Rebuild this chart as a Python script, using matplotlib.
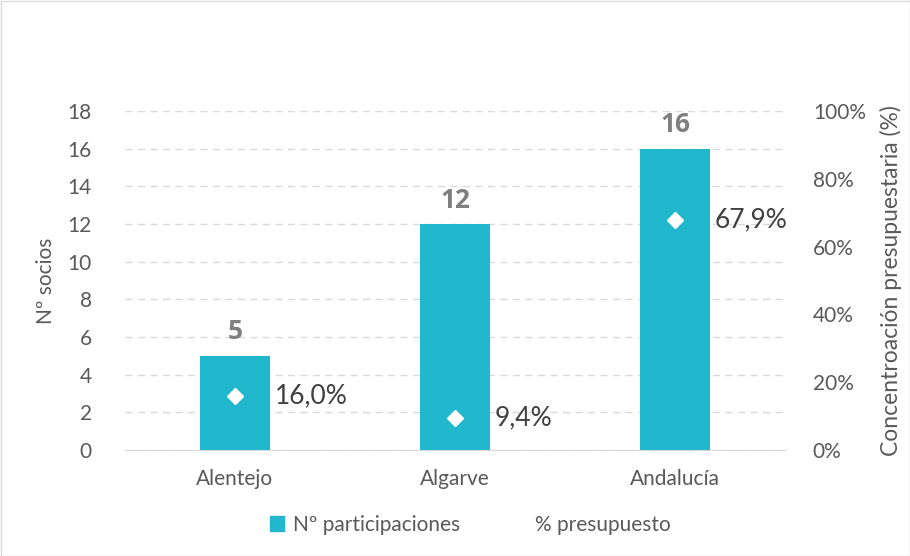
import matplotlib.pyplot as plt
from matplotlib.patches import Rectangle
from matplotlib.lines import Line2D

plt.rcParams['font.family'] = ['Lato', 'DejaVu Sans']

regions = ['Alentejo', 'Algarve', 'Andalucía']
socios = [5, 12, 16]
presupuesto = [16.0, 9.4, 67.9]
pct_labels = ['16,0%', '9,4%', '67,9%']

bar_color = '#21B7CD'
text_gray = '#595959'
grid_gray = '#D9D9D9'

fig = plt.figure(figsize=(9.1, 5.56), dpi=100)
ax = fig.add_axes([125 / 910, 106 / 556, 660 / 910, 339 / 556])
ax2 = ax.twinx()

x = list(range(len(regions)))
ax.bar(x, socios, width=0.315, color=bar_color, zorder=3)
for xi, v in zip(x, socios):
    ax.text(xi, v + 0.55, str(v), ha='center', va='bottom', fontsize=19,
            fontweight='bold', color='#7F7F7F',
            family=['Open Sans', 'DejaVu Sans'])

ax.set_ylim(0, 18)
ax.set_xlim(-0.5, 2.5)
ax.set_yticks(range(0, 19, 2))
ax.set_xticks(x)
ax.set_xticklabels(regions)
ax.yaxis.grid(True, color=grid_gray, linestyle=(0, (5, 4)), linewidth=1)
ax.set_axisbelow(True)
for s in ax.spines.values():
    s.set_visible(False)
ax.spines['bottom'].set_visible(True)
ax.spines['bottom'].set_color(grid_gray)
ax.tick_params(axis='both', length=0, labelsize=15, labelcolor=text_gray)
ax.tick_params(axis='x', pad=14)
ax.tick_params(axis='y', pad=24)
ax.set_ylabel('Nº socios', fontsize=15, color=text_gray, labelpad=8)

ax2.plot(x, presupuesto, linestyle='none', marker='D', markersize=8,
         color='white', zorder=5)
for xi, v, lab in zip(x, presupuesto, pct_labels):
    ax2.text(xi + 0.18, v, lab, ha='left', va='center', fontsize=19,
             color='#404040')
ax2.set_ylim(0, 100)
ax2.set_yticks(range(0, 101, 20))
ax2.set_yticklabels([f'{t}%' for t in range(0, 101, 20)])
for s in ax2.spines.values():
    s.set_visible(False)
ax2.tick_params(axis='y', length=0, labelsize=15, labelcolor=text_gray, pad=20)
ax2.set_ylabel('Concentroación presupuestaria (%)', fontsize=16.5,
               color=text_gray, labelpad=10)

handles = [
    Rectangle((0, 0), 1, 1, color=bar_color),
    Line2D([], [], linestyle='none', marker='D', color='white', markersize=8),
]
fig.legend(handles, ['Nº participaciones', '% presupuesto'], loc='center',
           bbox_to_anchor=(470 / 910, 1 - 525 / 556), ncol=2, frameon=False,
           fontsize=15, labelcolor=text_gray, handlelength=0.7,
           handletextpad=0.4, columnspacing=2.5)

fig.add_artist(Rectangle((0.5 / 910, 0.5 / 556), 1 - 1 / 910, 1 - 1 / 556,
                         transform=fig.transFigure, fill=False,
                         edgecolor='#D9D9D9', linewidth=1))

fig.savefig('out.png', dpi=100)
